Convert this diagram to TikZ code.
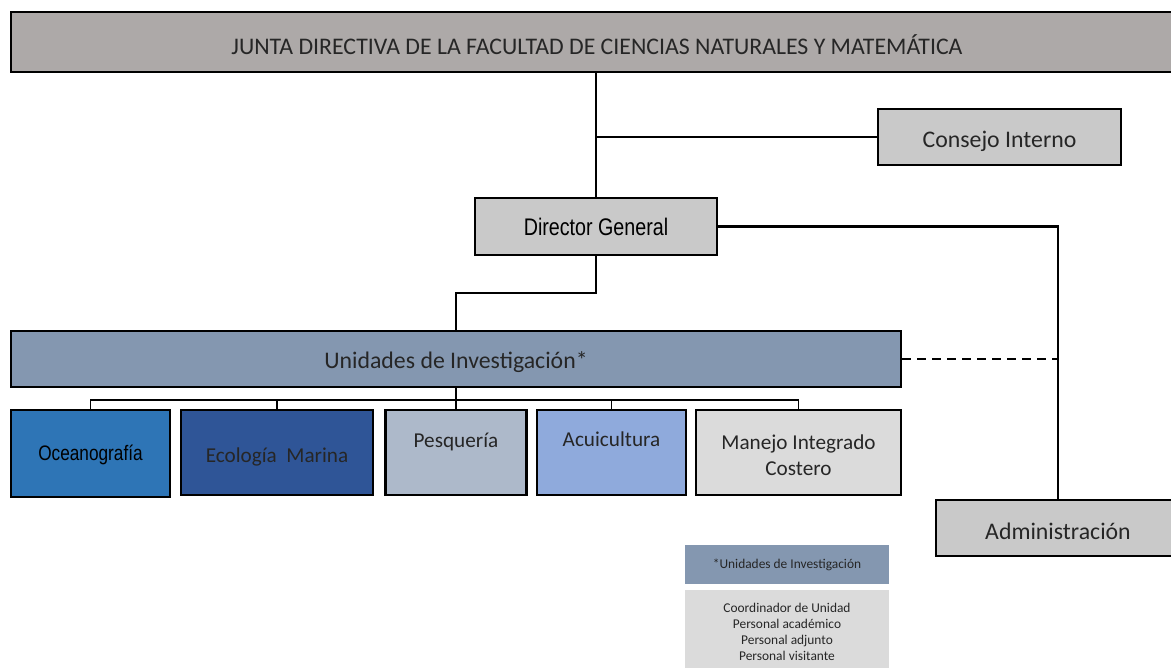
\documentclass[tikz,border=0pt]{standalone}
\usepackage{fontspec}
\setmainfont{Carlito}
\newfontfamily\narrowfont{Liberation Sans}[FakeStretch=0.82]
\definecolor{juntaC}{HTML}{ADA9A8}
\definecolor{grayC}{HTML}{C9C9C9}
\definecolor{unidC}{HTML}{8497B0}
\definecolor{oceanC}{HTML}{2E75B6}
\definecolor{ecolC}{HTML}{2F5597}
\definecolor{pesqC}{HTML}{ADB9CA}
\definecolor{acuiC}{HTML}{8FAADC}
\definecolor{lightC}{HTML}{DBDBDB}
\definecolor{txtC}{HTML}{262626}
\newcommand{\lowtxt}[2]{\raisebox{-#1}[\height][\depth]{#2}}
\begin{document}
\begin{tikzpicture}[x=1pt,y=-1pt,
  box/.style={draw=black, line width=2.2pt, inner sep=0pt, text=txtC,
    font=\fontsize{23.8}{28}\selectfont, align=center},
  unit/.style={box, font=\fontsize{21.2}{26}\selectfont},
  conn/.style={line width=2.2pt},
  thinconn/.style={line width=1.3pt},
  legend/.style={inner sep=0pt, text=txtC, align=center}]
\useasboundingbox (0,0) rectangle (1171,668);

\node[box, fill=juntaC, minimum width=1172pt, minimum height=60pt] (junta) at (597,42)
  {\lowtxt{2.5pt}{JUNTA DIRECTIVA DE LA FACULTAD DE CIENCIAS NATURALES Y MATEMÁTICA}};
\node[box, fill=grayC, minimum width=243pt, minimum height=56pt] (consejo) at (999.5,137) {\lowtxt{4pt}{Consejo Interno}};
\node[box, fill=grayC, minimum width=242pt, minimum height=57pt,
  font=\narrowfont\fontsize{24}{28}\selectfont, text=black] (director) at (596,226.5) {Director General};
\node[box, fill=unidC, minimum width=890pt, minimum height=56pt] (unidades) at (456,359) {\lowtxt{3pt}{Unidades de Investigación*}};

\node[box, fill=oceanC, minimum width=159pt, minimum height=87pt,
  font=\narrowfont\fontsize{21}{25}\selectfont, text=black] (ocean) at (90.5,453.5) {\lowtxt{1pt}{Oceanografía}};
\node[unit, fill=ecolC, minimum width=192pt, minimum height=85pt] (ecol) at (277,452.5) {\lowtxt{4pt}{Ecología\ \ Marina}};
\node[unit, fill=pesqC, minimum width=141pt, minimum height=85pt,
  label={[anchor=center, yshift=-33pt, text=txtC, font=\fontsize{21.2}{26}\selectfont]north:Pesquería}] (pesq) at (456,452.5) {};
\node[unit, fill=acuiC, minimum width=149pt, minimum height=85pt,
  label={[anchor=center, yshift=-30pt, text=txtC, font=\fontsize{21.2}{26}\selectfont]north:Acuicultura}] (acui) at (611.5,452.5) {};
\node[unit, fill=lightC, minimum width=205pt, minimum height=85pt] (manejo) at (798.5,452.5) {\lowtxt{5pt}{\begin{tabular}{@{}c@{}}Manejo Integrado\\[0pt]Costero\end{tabular}}};

\node[box, fill=grayC, minimum width=244pt, minimum height=56pt] (admin) at (1058,528) {\lowtxt{3pt}{Administración}};

\node[legend, fill=unidC, minimum width=204pt, minimum height=39pt,
  font=\fontsize{13.4}{16}\selectfont] (lhead) at (787,564.5) {*Unidades de Investigación};
\node[legend, fill=lightC, minimum width=204pt, minimum height=78pt,
  font=\fontsize{13.4}{16}\selectfont] (lbody) at (787,629)
  {\lowtxt{4pt}{\begin{tabular}{@{}c@{}}Coordinador de Unidad\\Personal académico\\Personal adjunto\\Personal visitante\end{tabular}}};

% connectors
\coordinate (j1) at (456,293);
\coordinate (bus) at (0,400);
\draw[conn] (director.north) -- (director.north |- junta.south);
\draw[conn] (consejo.west) -- (consejo.west -| director.north);
\draw[conn] (director.east) -| (admin.north);
\draw[conn] (director.south) |- (j1) -- (unidades.north);
\draw[conn, dash pattern=on 9pt off 6pt, line width=1.8pt] (unidades.east) -- (unidades.east -| admin.north);
\draw[conn] (unidades.south) -- (pesq.north);
\draw[thinconn] (ocean.north) |- (manejo.north |- bus) -- (manejo.north);
\draw[thinconn] (ecol.north) -- (ecol.north |- bus);
\draw[thinconn] (acui.north) -- (acui.north |- bus);
\end{tikzpicture}
\end{document}
